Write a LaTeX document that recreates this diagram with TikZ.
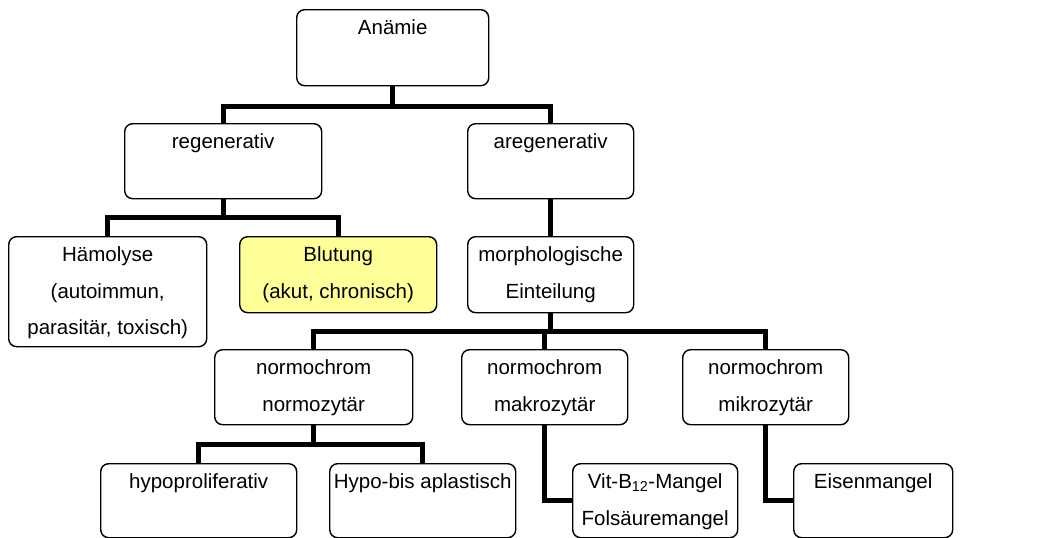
\documentclass[tikz,border=0pt]{standalone}
\usepackage{fontspec}
\setmainfont{Liberation Sans}
\usetikzlibrary{backgrounds}
\newcommand\bxt[3]{\parbox[c][#2pt][t]{#1pt}{\fontsize{20.5}{36.5}\selectfont\centering\rule{0pt}{25pt}#3\par}}
\begin{document}
\begin{tikzpicture}[x=1pt,y=-1pt,
  nbox/.style={draw=black, line width=1.4pt, rounded corners=8pt, fill=white, inner sep=0pt, anchor=north west},
  conn/.style={draw=black, line width=5pt, line join=miter}]
\useasboundingbox (0,0) rectangle (1058,538);
\node[nbox] (anaemie) at (296,9)   {\bxt{192}{76}{Anämie}};
\node[nbox] (regen)   at (124,123) {\bxt{197}{75}{regenerativ}};
\node[nbox] (areg)    at (467,123) {\bxt{166}{75}{aregenerativ}};
\node[nbox] (haem)    at (8,236)   {\bxt{198}{110}{Hämolyse\\(autoimmun,\\parasitär, toxisch)}};
\node[nbox, fill={rgb,255:red,255;green,255;blue,153}] (blut) at (239,236) {\bxt{197}{76}{Blutung\\(akut, chronisch)}};
\node[nbox] (morph)   at (467,236) {\bxt{166}{76}{morphologische\\Einteilung}};
\node[nbox] (normo)   at (214,349) {\bxt{198}{75}{normochrom\\normozytär}};
\node[nbox] (makro)   at (461,349) {\bxt{166}{75}{normochrom\\makrozytär}};
\node[nbox] (mikro)   at (682,349) {\bxt{166}{75}{normochrom\\mikrozytär}};
\node[nbox] (hypo)    at (100,463) {\bxt{196}{74}{hypoproliferativ}};
\node[nbox] (aplast)  at (329,463) {\bxt{186}{74}{Hypo-bis aplastisch}};
\node[nbox] (vit)     at (572,463) {\bxt{165}{74}{Vit-B\textsubscript{12}-Mangel\\Folsäuremangel}};
\node[nbox] (eisen)   at (793,463) {\bxt{159}{74}{Eisenmangel}};
\begin{scope}[on background layer]
\fill[white] (0,0) rectangle (1058,538);
\draw[conn] (anaemie.south) -- ++(0,20) -| (regen.north);
\draw[conn] (anaemie.south) -- ++(0,20) -| (areg.north);
\draw[conn] (regen.south) -- ++(0,18) -| (haem.north);
\draw[conn] (regen.south) -- ++(0,18) -| (blut.north);
\draw[conn] (areg.south) -- (morph.north);
\draw[conn] (morph.south) -- ++(0,18) -| (normo.north);
\draw[conn] (morph.south) -- ++(0,18) -| (makro.north);
\draw[conn] (morph.south) -- ++(0,18) -| (mikro.north);
\draw[conn] (normo.south) -- ++(0,19) -| (hypo.north);
\draw[conn] (normo.south) -- ++(0,19) -| (aplast.north);
\draw[conn] (makro.south) |- (vit.west);
\draw[conn] (mikro.south) |- (eisen.west);
\end{scope}
\end{tikzpicture}
\end{document}
